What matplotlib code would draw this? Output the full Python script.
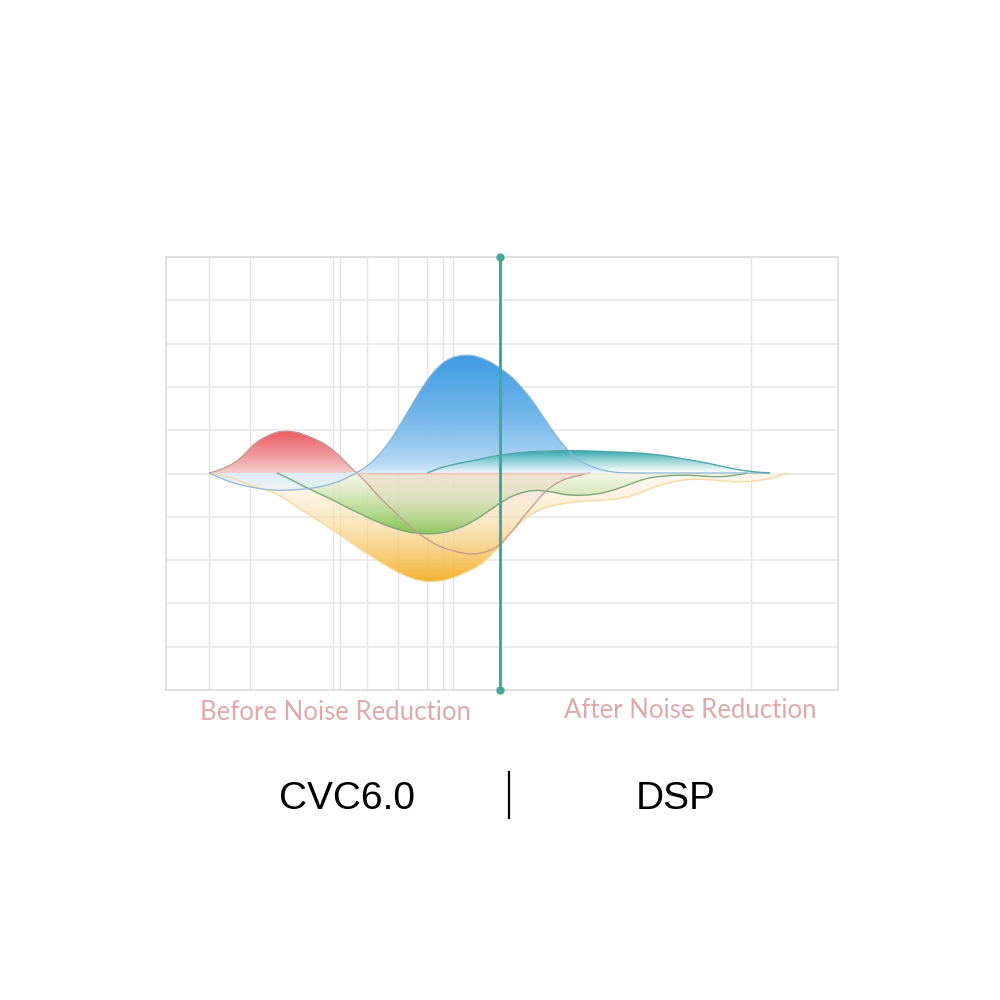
import numpy as np
import matplotlib
matplotlib.use("Agg")
import matplotlib.pyplot as plt
from matplotlib.colors import to_rgba
from matplotlib.path import Path
from matplotlib.patches import PathPatch

# ---------------- data (x: position along band, y: level relative to baseline) -------------
red_x = [43, 54, 67, 76, 84, 92, 101, 109, 117, 126, 134, 142, 151, 159, 167, 176, 184, 191,
         199, 207, 217, 227, 234, 244, 254, 264, 274, 291, 307, 324, 334, 341, 349, 357, 366,
         374, 382, 391, 399, 407, 416, 424]
red_y = [0, 3, 9, 16, 25, 32, 37, 40.5, 42, 41.5, 40, 37, 33, 29, 23, 15, 6, 0,
         -8, -17, -28, -37, -44, -53, -62, -68, -74, -79, -82, -78, -72, -64, -55, -44, -34,
         -24, -16, -10, -6, -4, -1.5, 0]

blue_x = [43, 54, 67, 84, 102, 121, 139, 154, 169, 181, 194, 204, 214, 224, 234, 244, 254, 264,
          274, 284, 294, 304, 311, 321, 331, 341, 349, 357, 366, 374, 382, 391, 399, 407, 416,
          424, 434, 446, 457, 514, 604]
blue_y = [0, -5, -10, -14, -17, -17.5, -16, -14, -10, -5, 2, 9, 19, 32, 48, 65, 82, 97,
          108, 115, 117.5, 118, 116.5, 113, 107, 100, 93, 84, 73, 61, 49, 36, 26, 17, 11,
          7, 3.5, 1, 0, 0, 0]

teal_x = [261, 269, 277, 294, 311, 327, 344, 357, 384, 404, 424, 449, 474, 494, 507, 524, 541,
          559, 574, 589, 604]
teal_y = [0, 3, 6, 10, 13, 17, 19, 21, 22, 22.5, 22, 21, 20, 18, 16, 13, 10, 6, 3, 1, 0]

green_x = [111, 124, 139, 154, 167, 184, 199, 207, 224, 241, 254, 264, 277, 291, 304, 314, 324,
           334, 344, 354, 367, 381, 391, 401, 417, 431, 441, 454, 467, 481, 497, 514, 531, 547,
           559, 571, 581]
green_y = [0, -6, -14, -21, -27, -36, -43, -47, -54, -59, -60.5, -61, -60, -56, -50, -44, -37,
           -30, -24, -20, -17, -18, -20, -22, -22.5, -21, -19, -15, -10, -5, -3, -2, -2.5, -4,
           -3.5, -2, 0]

orange_x = [43, 54, 67, 84, 101, 111, 124, 134, 144, 159, 177, 194, 211, 224, 239, 254, 269, 284,
            299, 309, 317, 324, 334, 341, 351, 361, 371, 381, 394, 407, 424, 441, 457, 469, 481,
            494, 514, 531, 547, 559, 571, 584, 597, 609, 621]
orange_y = [0, -2, -5, -12, -17, -21, -29, -36, -42, -52, -64, -76, -87, -95, -103, -108, -109,
            -106, -100, -95, -90, -83, -73, -64, -53, -44, -38, -34, -31, -29, -28, -27, -25,
            -22, -17, -12, -7, -6, -7, -8, -9, -8.5, -7, -4.5, 0]

grid_x = [43, 84, 167, 174, 201, 232, 261, 277, 287, 585]
divider_x = 334

labels_bottom = ["Before Noise Reduction", "After Noise Reduction"]
names = ["CVC6.0", "DSP"]

# ---------------- figure ----------------
fig = plt.figure(figsize=(10, 10), dpi=100)
fig.patch.set_facecolor("white")
ax = fig.add_axes([0.166, 0.310, 0.672, 0.433])
ax.set_xlim(0, 672)
ax.set_ylim(-217, 216)
ax.set_xticks([])
ax.set_yticks([])
for s in ax.spines.values():
    s.set_color("#dcdcdc")
    s.set_linewidth(1.2)

for gx in grid_x:
    ax.axvline(gx, color="#e3e3e3", lw=1.0, zorder=0)
for gy in np.linspace(-217, 216, 11)[1:-1]:
    ax.axhline(gy, color="#e8e8e8", lw=1.2, zorder=0)


def smooth_verts(x, y):
    """Quadratic-Bezier path through midpoints, control points at the data points."""
    pts = np.column_stack([x, y]).astype(float)
    verts = [pts[0], (pts[0] + pts[1]) / 2]
    codes = [Path.MOVETO, Path.LINETO]
    for i in range(1, len(pts) - 1):
        verts += [pts[i], (pts[i] + pts[i + 1]) / 2]
        codes += [Path.CURVE3, Path.CURVE3]
    verts.append(pts[-1])
    codes.append(Path.LINETO)
    return verts, codes


def curve_path(x, y):
    v, c = smooth_verts(x, y)
    return Path(v, c)


def area_path(x, y):
    v, c = smooth_verts(x, y)
    v = v + [(x[-1], 0), (x[0], 0), (x[0], 0)]
    c = c + [Path.LINETO, Path.LINETO, Path.CLOSEPOLY]
    return Path(v, c)


def grad_fill(x, y, c_ext, c_base, a_ext, a_base, z, power=1.0):
    x = np.asarray(x, float)
    y = np.asarray(y, float)
    path = area_path(x, y)
    ext = y[np.argmax(np.abs(y))]
    n = 256
    t = np.linspace(0, 1, n) ** power  # 0 at baseline -> 1 at extreme
    ce = np.array(to_rgba(c_ext))
    cb = np.array(to_rgba(c_base))
    cols = cb[None, :] * (1 - t[:, None]) + ce[None, :] * t[:, None]
    cols[:, 3] = a_base * (1 - t) + a_ext * t
    img = cols[:, None, :]
    im = ax.imshow(img, extent=[x.min(), x.max(), 0, ext], origin="lower", aspect="auto",
                   interpolation="bilinear", zorder=z)
    im.set_clip_path(path, transform=ax.transData)
    return im


def edge(x, y, color, lw, z=8):
    ax.add_patch(PathPatch(curve_path(x, y), facecolor="none", edgecolor=color, lw=lw,
                           zorder=z))


rx = np.array(red_x, float)
ry = np.array(red_y, float)
bx = np.array(blue_x, float)
by = np.array(blue_y, float)

# lower side
grad_fill(orange_x, orange_y, "#f3ad1e", "#fdf3de", 0.95, 0.55, 2, power=1.4)
grad_fill(green_x, green_y, "#7fc24e", "#edf6e2", 0.97, 0.55, 3, power=1.0)
grad_fill(rx, np.minimum(ry, 0), "#f5ece6", "#f1cdbf", 0.0, 0.6, 4, power=0.7)
grad_fill(bx, np.minimum(by, 0), "#e6f2fb", "#d9ebfa", 0.7, 0.95, 4)

# upper side
grad_fill(rx, np.maximum(ry, 0), "#ea5a60", "#f5cccc", 1.0, 0.95, 5, power=0.9)
grad_fill(bx, np.maximum(by, 0), "#3f9ce2", "#e6f2fc", 1.0, 0.95, 6, power=0.5)
grad_fill(teal_x, teal_y, "#2aa6ab", "#ffffff", 1.0, 0.6, 7, power=0.9)

# edge lines
edge(orange_x, orange_y, "#f5d9a0", 1.0)
edge(green_x, green_y, "#7aa77a", 1.0)
edge(red_x, red_y, "#c49891", 0.9)
edge(blue_x, blue_y, "#8db5d3", 0.9)
edge(teal_x, teal_y, "#4fa6a8", 1.0)
ax.plot([red_x[17], red_x[-1]], [0, 0], color="#e9c0b9", lw=1.0, zorder=8)

# divider
ax.plot([divider_x, divider_x], [-217, 216], color="#45a89d", lw=2.2, zorder=9,
        marker="o", markersize=5, clip_on=False)

# labels
fig.text(0.336, 0.288, labels_bottom[0], ha="center", va="center", fontsize=18.5,
         color="#dfa9ab", family="Lato")
fig.text(0.690, 0.289, labels_bottom[1], ha="center", va="center", fontsize=18.5,
         color="#dfa9ab", family="Lato")
fig.text(0.347, 0.201, names[0], ha="center", va="center", fontsize=28,
         color="black", family="Liberation Sans")
fig.text(0.676, 0.201, names[1], ha="center", va="center", fontsize=28,
         color="black", family="Liberation Sans")
fig.add_artist(plt.Line2D([0.509, 0.509], [0.182, 0.228], color="black", lw=1.6))

fig.savefig("out.png", dpi=100, facecolor="white")
